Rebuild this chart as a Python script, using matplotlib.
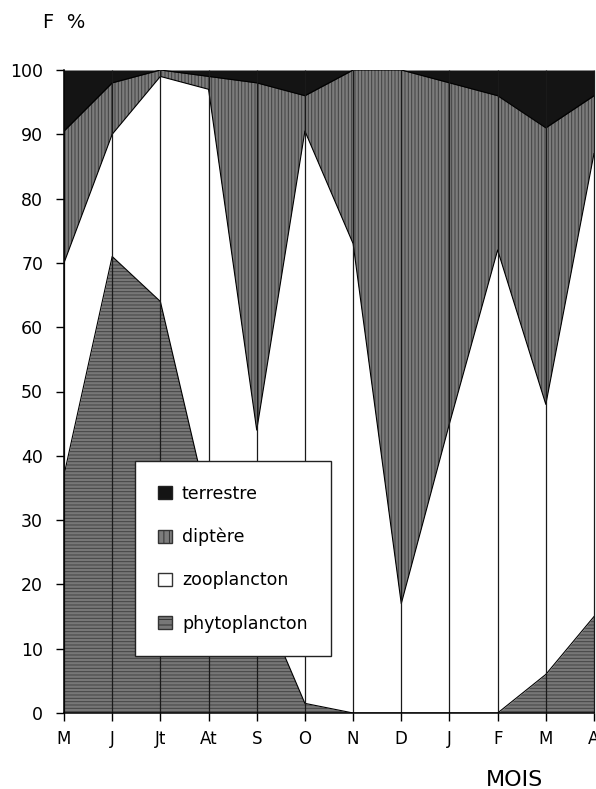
import numpy as np
import matplotlib
matplotlib.use("Agg")
import matplotlib.pyplot as plt
from matplotlib.patches import Patch

months = ['M', 'J', 'Jt', 'At', 'S', 'O', 'N', 'D', 'J', 'F', 'M', 'A']
phytoplancton = [37, 71, 64, 32, 19, 1.5, 0, 0, 0, 0, 6, 15]
zooplancton = [33, 19, 35, 65, 25, 89, 73, 17, 45, 72, 42, 72]
diptere = [20.5, 8, 1, 2, 54, 5.5, 27, 83, 53, 24, 43, 9]
terrestre = [9.5, 2, 0, 1, 2, 4, 0, 0, 2, 4, 9, 4]
yticks = [0, 10, 20, 30, 40, 50, 60, 70, 80, 90, 100]

plt.rcParams['font.family'] = ['DejaVu Sans']
plt.rcParams['hatch.linewidth'] = 0.7

fig = plt.figure(figsize=(5.96, 7.89), dpi=100)
ax = fig.add_axes([64/596, 1 - 713/789, 530/596, 643/789])

x = np.arange(len(months))
layers = [phytoplancton, zooplancton, diptere, terrestre]
faces = ['#777777', 'white', '#7c7c7c', '#141414']
hatchc = ['#434343', 'white', '#414141', '#141414']
hatches = ['-----', None, '|||||', None]

base = np.zeros(len(months))
tops = []
for vals, fc, hc, h in zip(layers, faces, hatchc, hatches):
    top = base + np.array(vals, dtype=float)
    ax.fill_between(x, base, top, facecolor=fc, edgecolor=hc, hatch=h,
                    linewidth=0, zorder=1)
    tops.append(top)
    base = top

for top in tops[:-1]:
    ax.plot(x, top, color='black', lw=0.8, zorder=2)

ax.vlines(x, 0, 100, color='#1a1a1a', lw=0.9, zorder=3, clip_on=False)

ax.set_xlim(0, 11)
ax.set_ylim(0, 100)
ax.set_xticks(x)
ax.set_xticklabels(months, fontsize=12)
ax.set_yticks(yticks)
ax.set_yticklabels([str(v) for v in yticks], fontsize=12.5)
ax.tick_params(axis='y', direction='out', length=6, width=1, pad=9)
ax.tick_params(axis='x', direction='out', length=6, width=1, pad=6)
for s in ['top', 'right']:
    ax.spines[s].set_visible(False)
for s in ['left', 'bottom']:
    ax.spines[s].set_linewidth(1.1)
    ax.spines[s].set_zorder(4)

handles = [
    Patch(facecolor='#141414', edgecolor='#222222', label='terrestre'),
    Patch(facecolor='#7c7c7c', edgecolor='#333333', hatch='|||', label='diptère'),
    Patch(facecolor='white', edgecolor='#333333', label='zooplancton'),
    Patch(facecolor='#777777', edgecolor='#333333', hatch='---', label='phytoplancton'),
]
leg = ax.legend(handles=handles, loc='lower left', bbox_to_anchor=(0.134, 0.0886),
                borderaxespad=0, fontsize=12.5, frameon=True, fancybox=False,
                edgecolor='#222222', framealpha=1, borderpad=1.35,
                labelspacing=1.45, handlelength=0.8, handleheight=0.8,
                handletextpad=0.55)
leg.get_frame().set_linewidth(1.0)
leg.set_zorder(10)

fig.text(64/596, 1 - 23/789, 'F  %', fontsize=14, ha='center', va='center')
fig.text(515/596, 1 - 780/789, 'MOIS', fontsize=16, ha='center', va='center')

fig.savefig('out.png', dpi=100)
